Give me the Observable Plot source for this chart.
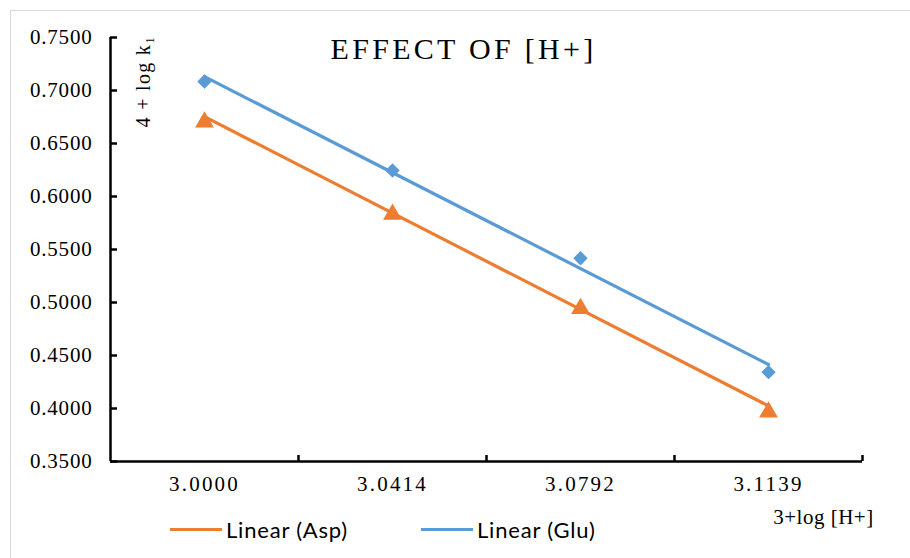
<!DOCTYPE html>
<html>
<head>
<meta charset="utf-8">
<script src="https://cdn.jsdelivr.net/npm/d3@7"></script>
<script src="https://cdn.jsdelivr.net/npm/@observablehq/plot@0.6"></script>
<style>
  body { margin: 0; background: #fff; }
  #wrap { position: relative; width: 910px; height: 558px; overflow: hidden; background: #fff; }
  #frame { position: absolute; left: 10px; top: 10px; width: 940px; height: 600px; border: 1px solid #d9d9d9; pointer-events: none; }
  #legend { position: absolute; left: 170px; top: 516px; font-family: Lato, "Open Sans", sans-serif; font-size: 22px; letter-spacing: 0.8px; color: #000; white-space: nowrap; }
  .item { position: absolute; top: 0; display: flex; align-items: center; }
  .swatch { display: inline-block; width: 52px; height: 3px; margin-right: 4px; }
</style>
</head>
<body>
<div id="wrap">
  <div id="chart"></div>
  <div id="frame"></div>
  <div id="legend"></div>
</div>
<script>
// Category labels (x positions are category indices 1..4)
const categories = ["3.0000", "3.0414", "3.0792", "3.1139"];
const categoryIndex = [1, 2, 3, 4];
// Series values
const aspValues = [0.673, 0.586, 0.497, 0.3995];
const gluValues = [0.7085, 0.6245, 0.5418, 0.4343];
// Y tick values
const yTicks = [0.35, 0.40, 0.45, 0.50, 0.55, 0.60, 0.65, 0.70, 0.75];
const boundaryTicks = [1.5, 2.5, 3.5, 4.5];

const seriesNames = ["Asp", "Glu"];
const colors = {Asp: "#ED7D31", Glu: "#5B9BD5"};

const titleText = "EFFECT OF [H+]";
const yLabelText = "4 + log k\u2081";
const xLabelText = "3+log [H+]";

const data = [
  ...categoryIndex.map((c, i) => ({series: "Asp", x: c, y: aspValues[i]})),
  ...categoryIndex.map((c, i) => ({series: "Glu", x: c, y: gluValues[i]}))
];
const asp = data.filter(d => d.series === "Asp");
const glu = data.filter(d => d.series === "Glu");

const serif = "'Liberation Serif', 'Times New Roman', serif";

const chart = Plot.plot({
  width: 910,
  height: 558,
  marginLeft: 110,
  marginRight: 48,
  marginTop: 37,
  marginBottom: 97,
  style: {fontFamily: serif, fontSize: "21px", color: "#000", background: "transparent"},
  x: {type: "linear", domain: [0.5, 4.5]},
  y: {domain: [0.35, 0.75]},
  marks: [
    Plot.axisY({ticks: yTicks, tickSize: 0, tickPadding: 18, tickFormat: d3.format(".4f"), label: null, fontSize: 21}),
    Plot.axisY({ticks: yTicks, tickSize: -7, text: null, label: null, strokeWidth: 2.5}),
    Plot.axisX({ticks: categoryIndex, tickSize: 0, tickPadding: 15, tickFormat: d => categories[d - 1], label: null, fontSize: 21}),
    Plot.axisX({ticks: boundaryTicks, tickSize: -6, text: null, label: null, strokeWidth: 2.5}),
    Plot.ruleX([0.5], {stroke: "#000", strokeWidth: 2.5}),
    Plot.ruleY([0.35], {stroke: "#000", strokeWidth: 2.5}),
    Plot.linearRegressionY(asp, {x: "x", y: "y", stroke: colors.Asp, strokeWidth: 3.2, ci: 0}),
    Plot.linearRegressionY(glu, {x: "x", y: "y", stroke: colors.Glu, strokeWidth: 3.2, ci: 0}),
    Plot.dot(glu, {x: "x", y: "y", symbol: "diamond2", r: 6.5, fill: colors.Glu, stroke: "none"}),
    Plot.dot(asp, {x: "x", y: "y", symbol: "triangle", r: 7, fill: colors.Asp, stroke: "none", dy: 3}),
    Plot.text([titleText], {frameAnchor: "top", dx: -23, dy: 12, fontSize: 30, lineAnchor: "middle", fill: "#000"}),
    Plot.text([yLabelText], {frameAnchor: "top-left", dx: 33, dy: 44, rotate: -90, textAnchor: "middle", lineAnchor: "middle", fontSize: 20, fill: "#000"}),
    Plot.text([xLabelText], {frameAnchor: "bottom-right", dx: -39, dy: 56, textAnchor: "middle", lineAnchor: "middle", fontSize: 21, fill: "#000"})
  ]
});

const spacing = new Map([
  [titleText, "3.3px"],
  [yLabelText, "1.3px"],
  [xLabelText, "0.5px"]
]);
categories.forEach(c => spacing.set(c, "2.2px"));
yTicks.forEach(t => spacing.set(d3.format(".4f")(t), "0.8px"));
d3.select(chart).selectAll("text").each(function() {
  const s = spacing.get(this.textContent);
  if (s) this.style.letterSpacing = s;
});

document.getElementById("chart").appendChild(chart);

// Legend
const legendOffsets = {Asp: 0, Glu: 251};
const legend = document.getElementById("legend");
seriesNames.forEach(name => {
  const item = document.createElement("div");
  item.className = "item";
  item.style.left = legendOffsets[name] + "px";
  const sw = document.createElement("span");
  sw.className = "swatch";
  sw.style.background = colors[name];
  const label = document.createElement("span");
  label.textContent = `Linear (${name})`;
  item.appendChild(sw);
  item.appendChild(label);
  legend.appendChild(item);
});
</script>
</body>
</html>
